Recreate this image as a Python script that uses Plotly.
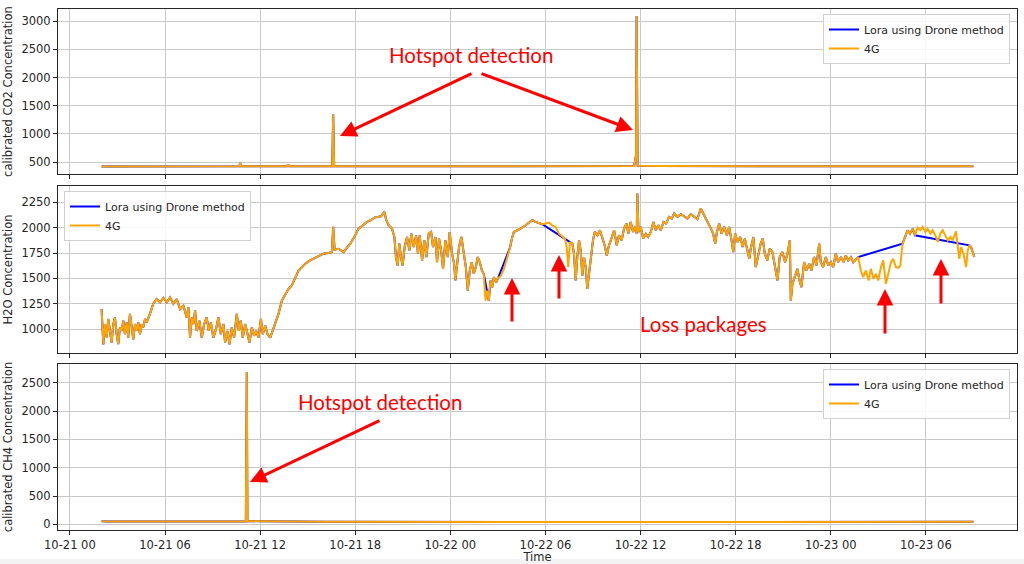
import pandas as pd
import plotly.graph_objects as go
from plotly.subplots import make_subplots

# ---------------- data (hours after 10-21 00:00) ----------------
co2_hours = [2.0, 4.0, 6.0, 8.0, 10.0, 10.7, 10.74, 10.78, 12.0, 13.7, 13.77, 13.82, 15.0,
             16.55, 16.61, 16.67, 18.0, 20.0, 22.0, 24.0, 26.0, 28.0, 30.0, 32.0, 34.0,
             35.6, 35.70, 35.72, 35.75, 35.78, 35.82, 37.0, 39.0, 41.0, 43.0, 45.0, 47.0,
             49.0, 51.0, 53.0, 55.0, 57.0]
co2_values = [425, 424, 426, 425, 427, 426, 485, 430, 426, 427, 460, 428, 426,
              428, 1345, 430, 427, 428, 426, 425, 426, 427, 428, 426, 427,
              430, 600, 560, 3090, 610, 435, 430, 428, 427, 428, 429, 428,
              427, 428, 427, 428, 428]

h2o_hours = [
    2.00, 2.11, 2.21, 2.32, 2.42, 2.53, 2.63, 2.74, 2.84, 2.95, 3.05, 3.16, 3.26, 3.37, 3.47,
    3.58, 3.68, 3.79, 3.90, 4.00, 4.11, 4.21, 4.32, 4.42, 4.53, 4.63, 4.74, 4.84, 5.05, 5.26,
    5.47, 5.69, 5.90, 6.11, 6.32, 6.53, 6.74, 6.95, 7.16, 7.37, 7.48, 7.58, 7.69, 7.79, 7.90,
    8.00, 8.17, 8.32, 8.47, 8.63, 8.76, 8.89, 9.05, 9.22, 9.37, 9.52, 9.69, 9.79, 9.94, 10.07,
    10.21, 10.36, 10.53, 10.66, 10.78, 10.91, 11.06, 11.20, 11.33, 11.48, 11.62, 11.75, 11.90,
    12.05, 12.17, 12.32, 12.47, 12.64, 12.80, 12.95, 13.16, 13.37, 13.58, 13.79, 14.00, 14.21,
    14.43, 14.64, 14.85,
    15.16, 15.58, 16.00, 16.32, 16.53, 16.61, 16.70, 16.95, 17.27, 17.48, 17.69, 17.94, 18.21,
    18.49, 18.74, 18.99, 19.21, 19.42, 19.63, 19.84, 19.96, 20.11, 20.32, 20.47, 20.57, 20.68,
    20.78, 20.89, 20.99, 21.12, 21.27, 21.42, 21.54, 21.69, 21.84, 21.96, 22.07, 22.22, 22.36,
    22.49, 22.64, 22.79, 22.91, 23.06, 23.16, 23.29, 23.42, 23.54, 23.69, 23.84, 23.96, 24.11,
    24.24, 24.32, 24.43, 24.55, 24.70, 24.85, 24.98, 25.10, 25.23, 25.35, 25.48, 25.61, 25.73,
    25.86, 25.99, 26.11, 26.22, 26.32, 26.43, 26.53, 26.64, 26.75, 26.89, 27.02, 27.17, 27.38,
    27.59, 27.76,
    27.90, 28.01, 28.22, 28.43, 28.75, 28.96, 29.17, 29.38, 29.59, 29.80, 30.01, 30.22, 30.43,
    30.64, 30.85, 31.06, 31.23, 31.34, 31.44, 31.55, 31.70, 31.80, 31.91, 32.01, 32.12, 32.22,
    32.33, 32.43, 32.54, 32.64, 32.77, 32.90, 33.00, 33.11, 33.28, 33.44, 33.59, 33.74, 33.87,
    34.01, 34.16, 34.33, 34.50, 34.64, 34.81, 34.96, 35.11, 35.23, 35.38, 35.53, 35.66, 35.76,
    35.80, 35.87, 36.01, 36.18, 36.33, 36.48, 36.65, 36.81, 36.96, 37.13, 37.28, 37.45, 37.61,
    37.80, 37.97, 38.12, 38.33, 38.54, 38.75, 38.96, 39.17, 39.38, 39.59, 39.80, 39.97, 40.12,
    40.29, 40.44, 40.58, 40.71, 40.82, 40.96, 41.11, 41.28, 41.45, 41.59, 41.74, 41.85, 41.97,
    42.12, 42.29, 42.44, 42.58, 42.75, 42.86,
    42.95, 43.12, 43.27, 43.42, 43.58, 43.71, 43.84, 44.00, 44.15, 44.32, 44.47, 44.64, 44.78,
    44.95, 45.12, 45.27, 45.42, 45.48, 45.58, 45.73, 45.90, 46.03, 46.15, 46.32, 46.47, 46.64,
    46.78, 46.95, 47.10, 47.27, 47.37, 47.52, 47.69, 47.84, 48.01, 48.15, 48.32, 48.47, 48.64,
    48.81, 48.95, 49.10, 49.27, 49.42, 49.59, 49.73, 49.90, 50.05, 50.22, 50.39, 50.53, 50.70,
    50.85, 50.99, 51.17, 51.31, 51.48, 51.63, 51.80, 51.94, 52.11, 52.26, 52.39, 52.53, 52.68,
    52.85, 53.00, 53.17, 53.31, 53.48, 53.65, 53.80, 53.97, 54.11, 54.28, 54.43, 54.60, 54.75,
    54.91, 55.06, 55.23, 55.38, 55.55, 55.69, 55.90, 56.01, 56.11, 56.22, 56.37, 56.54, 56.64,
    56.75, 56.85, 56.96, 57.06]
h2o_values = [
    1198, 850, 1050, 918, 1100, 950, 868, 1050, 1115, 950, 852, 1017, 983, 1083, 950,
    1066, 917, 1150, 983, 900, 1050, 983, 1066, 950, 1050, 1017, 1100, 1066, 1150, 1250,
    1297, 1264, 1307, 1264, 1313, 1250, 1297, 1198, 1231, 1116, 1215, 917, 1116, 1050, 1182,
    983, 1083, 917, 1050, 1115, 983, 1066, 917, 1000, 1115, 950, 1050, 868, 983, 851,
    1017, 917, 1150, 983, 1083, 917, 1050, 950, 868, 1017, 934, 983, 917,
    1100, 950, 1033, 950, 917, 983, 1050, 1150, 1280, 1346, 1396, 1430, 1511,
    1578, 1611, 1644,
    1677, 1710, 1743, 1750, 1759, 2007, 1782, 1792, 1759, 1802, 1842, 1908, 1990,
    2023, 2056, 2073, 2099, 2106, 2112, 2155, 2073, 2023, 1990, 1908, 1710, 1627,
    1842, 1710, 1627, 1809, 1908, 1776, 1941, 1809, 1924, 1743, 1924, 1677, 1875,
    1710, 1941, 1957, 1809, 1908, 1660, 1891, 1776, 1594, 1875, 1710, 1957, 1743,
    1644, 1479, 1677, 1809, 1908, 1759, 1611, 1380, 1578, 1660, 1545, 1611, 1710,
    1660, 1578, 1545, 1280, 1380, 1280, 1479, 1413, 1512, 1462, 1505, 1520, 1590,
    1700, 1800,
    1900, 1957, 1974, 1990, 2023, 2046, 2073, 2056, 2046, 2033, 2040, 2049, 2023,
    2007, 1941, 1908, 1891, 1809, 1611, 1858, 1842, 1743, 1479, 1710, 1875, 1776,
    1528, 1710, 1611, 1396, 1578, 1710, 1875, 1957, 1924, 1974, 1908, 1825, 1726,
    1825, 1891, 1974, 1825, 1924, 1875, 1990, 2040, 1941, 2056, 1957, 2007, 1941,
    2337, 1957, 2007, 1891, 1941, 1908, 1957, 2056, 1974, 2023, 1974, 2056, 2040,
    2106, 2089, 2139, 2106, 2132, 2112, 2089, 2132, 2106, 2083, 2188, 2139, 2089,
    2040, 1990, 1941, 1842, 1957, 2040, 1941, 2007, 1924, 2007, 1875, 1759, 1941,
    1858, 1908, 1809, 1891, 1776, 1693,
    1792, 1908, 1611, 1743, 1842, 1891, 1743, 1677, 1792, 1759, 1644, 1479, 1710,
    1759, 1660, 1743, 1875, 1280, 1446, 1528, 1594, 1479, 1413, 1660, 1578, 1644,
    1578, 1710, 1627, 1842, 1660, 1611, 1710, 1627, 1660, 1611, 1743, 1660, 1710,
    1660, 1726, 1677, 1710, 1660, 1693, 1710, 1578, 1512, 1578, 1479, 1594, 1495,
    1545, 1479, 1611, 1677, 1446, 1561, 1660, 1693, 1611, 1604, 1627, 1842, 1908,
    1974, 1941, 1990, 1924, 2000, 1974, 2007, 1957, 1990, 1941, 1974, 1924, 1858,
    1941, 1974, 1924, 1875, 1908, 1875, 1964, 1842, 1693, 1809, 1743, 1611, 1776,
    1825, 1809, 1759, 1710]

# periods (hours) where the Lora link lost packages: open intervals
lora_gap_start = [26.11, 27.02, 29.80, 49.73, 53.31]
lora_gap_end = [26.32, 27.76, 31.55, 52.53, 56.75]

ch4_hours = [2.0, 2.3, 4.0, 6.0, 8.0, 9.5, 10.5, 11.1, 11.16, 11.2, 12.0, 13.0, 14.0, 16.0,
             18.0, 20.0, 24.0, 28.0, 32.0, 36.0, 40.0, 44.0, 44.8, 47.0, 50.0, 52.0, 55.0, 57.0]
ch4_values = [55, 52, 50, 49, 50, 55, 58, 52, 2690, 60, 55, 58, 48, 44,
              42, 41, 40, 40, 39, 40, 41, 42, 45, 47, 48, 47, 46, 45]

x_tick_hours = [0, 6, 12, 18, 24, 30, 36, 42, 48, 54]
x_range_hours = [-0.75, 59.75]

# ---------------- helpers ----------------
base = pd.Timestamp("2023-10-21 00:00")


def to_time(hours):
    return [base + pd.Timedelta(hours=h) for h in hours]


def lora_subset(hours, values):
    hh, vv = [], []
    for h, v in zip(hours, values):
        inside = any(s < h < e for s, e in zip(lora_gap_start, lora_gap_end))
        if not inside:
            hh.append(h)
            vv.append(v)
    return hh, vv


LORA = "#0000FF"
G4 = "#FFA500"
FONT = "DejaVu Sans"

fig = make_subplots(rows=3, cols=1, shared_xaxes=True)

panels = [
    (co2_hours, co2_values, co2_hours, co2_values, "legend"),
    (h2o_hours, h2o_values) + lora_subset(h2o_hours, h2o_values) + ("legend2",),
    (ch4_hours, ch4_values, ch4_hours, ch4_values, "legend3"),
]
for i, (gh, gv, lh, lv, leg) in enumerate(panels, start=1):
    fig.add_trace(go.Scatter(x=to_time(lh), y=lv, mode="lines", name="Lora using Drone method",
                             line=dict(color=LORA, width=2), legend=leg), row=i, col=1)
    fig.add_trace(go.Scatter(x=to_time(gh), y=gv, mode="lines", name="4G",
                             line=dict(color=G4, width=2), legend=leg), row=i, col=1)

# layout geometry (pixel based)
W, H = 1024, 564
L, R, T, B = 58, 1017, 9, 530


def py(p):
    return (B - p) / (B - T)


def px(p):
    return (p - L) / (R - L)


domains = [(py(174), py(9)), (py(353), py(186)), (py(530), py(364))]
yranges = [(290, 3215), (765, 2410), (-100, 2830)]
ytickvals = [[500, 1000, 1500, 2000, 2500, 3000],
             [1000, 1250, 1500, 1750, 2000, 2250],
             [0, 500, 1000, 1500, 2000, 2500]]
ytitles = ["calibrated CO2 Concentration", "H2O Concentration", "calibrated CH4 Concentration"]

TXT = "#262626"
axis_common = dict(showline=True, linecolor=TXT, linewidth=1, mirror=True,
                   ticks="outside", ticklen=4, tickcolor=TXT, tickwidth=1,
                   showgrid=True, gridcolor="#c9c9c9", gridwidth=1.3, zeroline=False,
                   tickfont=dict(family=FONT, size=11.5, color=TXT))

for i in range(3):
    sfx = "" if i == 0 else str(i + 1)
    fig.layout["yaxis" + sfx].update(
        domain=domains[i], range=yranges[i], tickvals=ytickvals[i],
        title=dict(text=ytitles[i], font=dict(family=FONT, size=11.5, color=TXT), standoff=6),
        **axis_common)
    fig.layout["xaxis" + sfx].update(
        domain=[0, 1], range=to_time(x_range_hours), tickvals=to_time(x_tick_hours),
        tickformat="%m-%d %H", showticklabels=(i == 2), **axis_common)

fig.layout.xaxis3.title = dict(text="Time", font=dict(family=FONT, size=11.5, color=TXT), standoff=0)

legend_style = dict(bgcolor="rgba(255,255,255,0.85)", bordercolor="#d0d0d0", borderwidth=1,
                    font=dict(family=FONT, size=11, color=TXT), tracegroupgap=0,
                    itemwidth=30)
fig.update_layout(
    width=W, height=H,
    margin=dict(l=L, r=W - R, t=T, b=H - B, autoexpand=False),
    paper_bgcolor="white", plot_bgcolor="white",
    legend=dict(x=px(1010), y=py(14), xanchor="right", yanchor="top", **legend_style),
    legend2=dict(x=px(64), y=py(191), xanchor="left", yanchor="top", **legend_style),
    legend3=dict(x=px(1010), y=py(369), xanchor="right", yanchor="top", **legend_style),
)

# red call-out texts
TFONT = dict(family="Lato", size=20.5, color="#FF0000")
texts = [("Hotspot detection", 471, 55), ("Loss packages", 703, 324), ("Hotspot detection", 380, 402)]
for t, x, y in texts:
    fig.add_annotation(text=t, x=px(x), y=py(y), xref="paper", yref="paper",
                       showarrow=False, font=TFONT, xanchor="center", yanchor="middle")

# red arrows: (tip x, tip y, tail x, tail y) in pixels
arrows = [(340, 136, 473, 73), (633, 130, 480, 73), (250, 482, 381, 420),
          (512, 278, 512, 323), (559, 255, 559, 300), (885, 289, 885, 335), (941, 259, 941, 305)]
for tx, ty, sx, sy in arrows:
    fig.add_annotation(text="", x=px(tx), y=py(ty), xref="paper", yref="paper",
                       ax=sx - tx, ay=sy - ty, showarrow=True, arrowhead=2, arrowsize=1.1,
                       arrowwidth=3, arrowcolor="#FF0000")

# light grey strip at the bottom edge of the screenshot
fig.add_shape(type="rect", xref="paper", yref="paper", x0=px(0), x1=px(W), y0=py(H), y1=py(559),
              fillcolor="#f3f3f3", line=dict(width=0), layer="below")

fig.write_html(
    "out.html",
    config={"displayModeBar": False},
    post_script="document.body.style.margin='0';document.body.style.overflow='hidden';",
)
